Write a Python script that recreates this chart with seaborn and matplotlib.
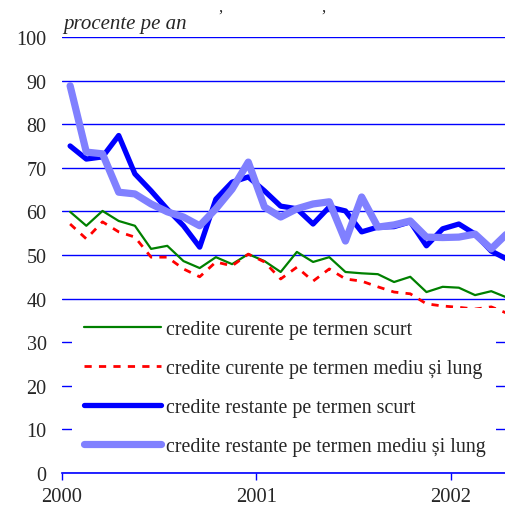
import pandas as pd
import seaborn as sns
import matplotlib.pyplot as plt

# monthly data, Jan 2000 - Apr 2002 (last point cut by the frame)
months = list(range(28))
curente_scurt = [59.9, 56.7, 60.1, 57.8, 56.7, 51.4, 52.1, 48.6, 47.0, 49.5,
                 47.9, 50.2, 48.6, 46.1, 50.7, 48.4, 49.5, 46.1, 45.8, 45.6,
                 43.8, 45.0, 41.5, 42.7, 42.5, 40.8, 41.7, 40.2]
curente_mediu = [57.1, 53.7, 57.6, 55.3, 54.1, 49.5, 49.5, 46.8, 45.0, 48.4,
                 47.5, 50.2, 48.4, 44.5, 47.2, 44.0, 46.8, 44.5, 44.0, 42.7,
                 41.5, 41.1, 38.8, 38.3, 38.0, 37.6, 38.1, 36.6]
restante_scurt = [75.0, 72.0, 72.5, 77.4, 68.6, 64.7, 60.5, 56.7, 51.8, 62.8,
                  66.7, 67.9, 64.7, 61.2, 60.6, 57.1, 61.0, 60.1, 55.3, 56.4,
                  56.5, 57.6, 52.1, 56.0, 57.1, 54.8, 50.9, 49.0]
restante_mediu = [88.8, 73.6, 73.2, 64.4, 64.0, 61.7, 59.9, 58.7, 56.7, 60.6,
                  65.1, 71.3, 61.0, 58.7, 60.6, 61.7, 62.2, 53.2, 63.3, 56.4,
                  56.9, 57.8, 54.1, 54.0, 54.1, 54.8, 51.4, 55.0]

labels = ['credite curente pe termen scurt',
          'credite curente pe termen mediu și lung',
          'credite restante pe termen scurt',
          'credite restante pe termen mediu și lung']
year_ticks = [0, 12, 24]
year_labels = ['2000', '2001', '2002']

sns.set_style('white')
plt.rcParams['font.family'] = ['Liberation Serif', 'DejaVu Serif']

fig = plt.figure(figsize=(5.05, 5.06), dpi=100)
ax = fig.add_axes([0.1228, 0.0632, 0.8772, 0.8618])

x = [m + 0.5 for m in months]
styles = [
    (curente_scurt, dict(color='#008000', lw=1.6)),
    (curente_mediu, dict(color='#ff0000', lw=2.0, dashes=(2.6, 2.6))),
    (restante_scurt, dict(color='#0000ff', lw=3.8)),
    (restante_mediu, dict(color='#8080ff', lw=5.2)),
]
for (vals, kw), lab in zip(styles, labels):
    dash = kw.pop('dashes', None)
    sns.lineplot(x=x, y=vals, ax=ax, label=lab, **kw)
    if dash is not None:
        ax.lines[-1].set_dashes(dash)
        ax.lines[-1].set_dash_capstyle('butt')

ax.set_xlim(0, 27.35)
ax.set_ylim(0, 100)
ax.set_yticks(range(0, 101, 10))
ax.yaxis.grid(True, color='#0000ff', lw=1.0)
ax.set_axisbelow(True)
for s in ['left', 'right', 'top']:
    ax.spines[s].set_visible(False)
ax.spines['bottom'].set_color('#0000ff')
ax.spines['bottom'].set_linewidth(1.2)
ax.set_xticks(year_ticks)
ax.set_xticklabels(year_labels)
ax.tick_params(axis='x', direction='out', length=5, width=1, color='#0000ff',
               labelsize=14.8, pad=5, bottom=True)
ax.tick_params(axis='y', length=0, labelsize=14.5, pad=11)
ax.set_xlabel('')
ax.set_ylabel('')

lg = ax.legend(loc='lower left', bbox_to_anchor=(0.022, 0.012, 0.958, 0.38),
               mode='expand', frameon=True, fancybox=False, fontsize=14.4,
               handlelength=3.85, handletextpad=0.25, labelspacing=1.0,
               borderpad=0.6, borderaxespad=0)
lg.get_frame().set_facecolor('white')
lg.get_frame().set_edgecolor('none')
lg.get_frame().set_alpha(1)

ax.text(0.003, 1.01, 'procente pe an', transform=ax.transAxes,
        fontsize=15, style='italic', ha='left', va='bottom')
fig.text(220 / 505, 1.0, ',', fontsize=12, ha='center', va='top')
fig.text(323 / 505, 1.0, ',', fontsize=12, ha='center', va='top')

plt.savefig('out.png', dpi=100)
